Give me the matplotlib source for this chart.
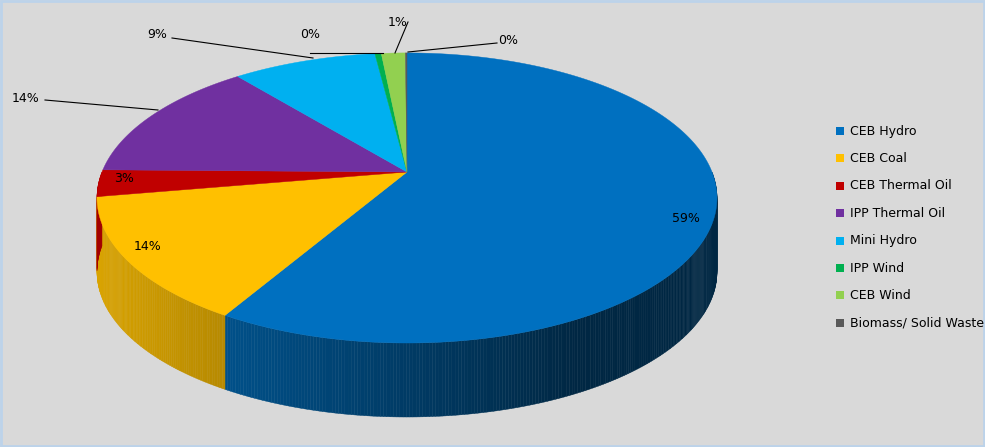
import numpy as np
import matplotlib.pyplot as plt
from matplotlib.patches import Polygon, Rectangle
from matplotlib.colors import to_rgb

labels = ['CEB Hydro', 'CEB Coal', 'CEB Thermal Oil', 'IPP Thermal Oil',
          'Mini Hydro', 'IPP Wind', 'CEB Wind', 'Biomass/ Solid Waste']
values = [59.0, 14.0, 3.0, 14.0, 9.0, 0.4, 1.5, 0.1]
pct_text = ['59%', '14%', '3%', '14%', '9%', '0%', '1%', '0%']
colors = ['#0070c0', '#ffc000', '#c00000', '#7030a0',
          '#00b0f0', '#00b050', '#92d050', '#595959']

fig = plt.figure(figsize=(9.85, 4.47), dpi=100)
fig.patch.set_facecolor('#d9d9d9')
ax = fig.add_axes([0, 0, 1, 1])
ax.set_xlim(0, 985)
ax.set_ylim(447, 0)
ax.axis('off')
ax.add_patch(Rectangle((1, 1), 983, 445, fill=False, ec='#bcd3ea', lw=2))

# perspective projection of a tilted disc
cx, cy, A, B, k, D = 407, 172, 305, 140.4, 0.179, 74
frac = np.array(values) / sum(values)
bounds = np.concatenate([[0], np.cumsum(frac)]) * 360


def pt(th, down=0.0):
    t = np.radians(th)
    u, v = np.sin(t), np.cos(t)
    w = 1 + k * v
    return cx + A * u / w, cy - B * v / w + down


# side walls (front half)
for i in range(len(values)):
    a0, a1 = max(bounds[i], 90), min(bounds[i + 1], 270)
    if a1 <= a0:
        continue
    base = np.array(to_rgb(colors[i]))
    ths = np.linspace(a0, a1, max(int((a1 - a0) * 2), 2))
    for t0, t1 in zip(ths[:-1], ths[1:]):
        x0, y0 = pt(t0)
        x1, y1 = pt(t1)
        f = min((x0 - (cx - 310)) / 480, 1.0)
        shade = np.clip(base * (0.85 - 0.5 * f), 0, 1)
        ax.add_patch(Polygon([(x0, y0), (x1, y1), pt(t1, D), pt(t0, D)],
                             closed=True, fc=shade, ec=shade, lw=0.3, zorder=1))

# top faces
for i in range(len(values)):
    ths = np.linspace(bounds[i], bounds[i + 1], max(int((bounds[i + 1] - bounds[i]) * 2), 2))
    pts = [(cx, cy)] + [pt(t) for t in ths]
    ax.add_patch(Polygon(pts, closed=True, fc=colors[i], ec=colors[i], lw=0.3, zorder=2))

# labels
fs = 9
ax.text(686, 219, pct_text[0], fontsize=fs, ha='center', va='center', zorder=5)
ax.text(148, 246, pct_text[1], fontsize=fs, ha='center', va='center', zorder=5)
ax.text(124, 178, pct_text[2], fontsize=fs, ha='center', va='center', zorder=5)
leaders = [(3, (26, 98), [(45, 100), (158, 110)]),
           (4, (157, 35), [(172, 38), (313, 58)]),
           (5, (310, 35), [(310, 53), (383, 53)]),
           (6, (398, 22), [(408, 22), (395, 53)]),
           (7, (508, 40), [(497, 43), (408, 52)])]
for i, (tx, ty), line in leaders:
    ax.text(tx, ty, pct_text[i], fontsize=fs, ha='center', va='center', zorder=5)
    xs, ys = zip(*line)
    ax.plot(xs, ys, color='black', lw=0.8, zorder=4)

# legend
for k_, (lab, col) in enumerate(zip(labels, colors)):
    y = 131 + k_ * 27.4
    ax.add_patch(Rectangle((836, y - 4), 8, 8, fc=col, ec='none', zorder=5))
    ax.text(850, y, lab, fontsize=fs, va='center', ha='left', zorder=5)

fig.savefig('out.png', dpi=100, facecolor=fig.get_facecolor())
